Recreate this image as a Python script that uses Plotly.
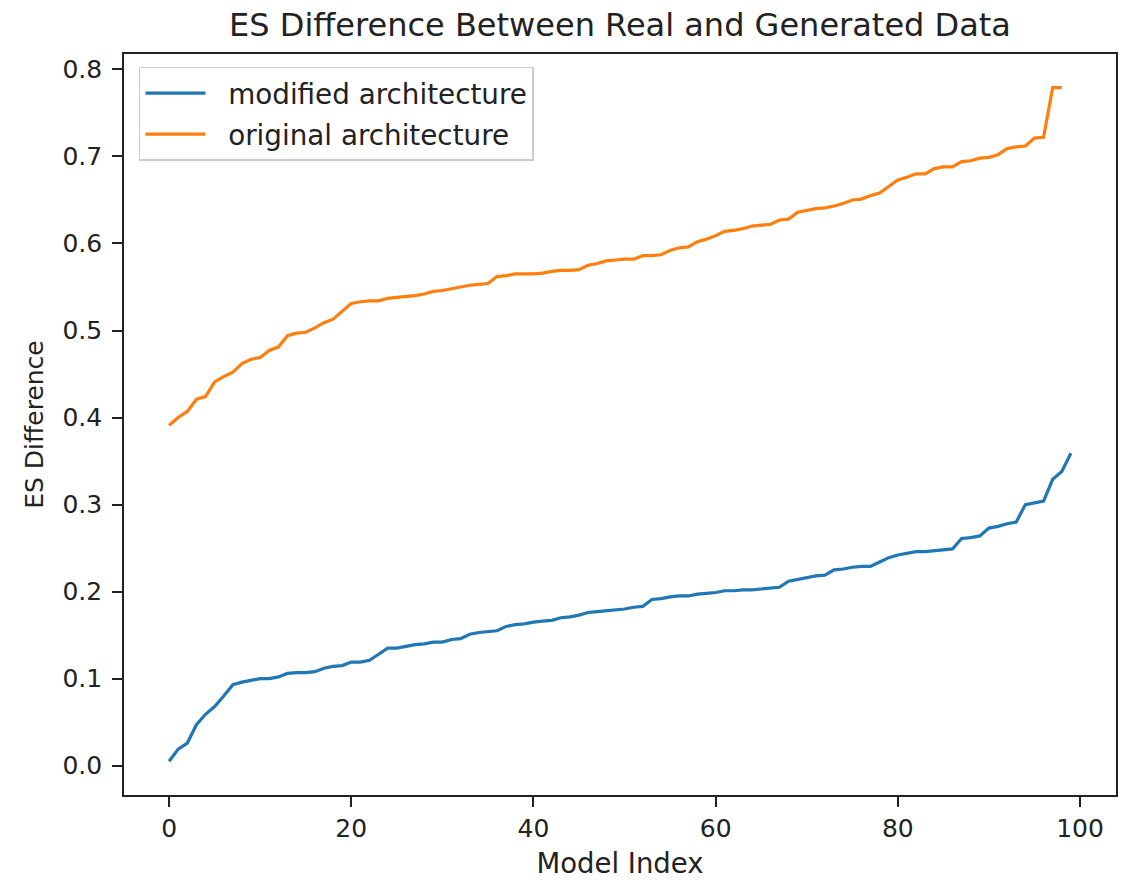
import plotly.graph_objects as go

modified = [0.005, 0.019, 0.026, 0.047, 0.059, 0.068, 0.080, 0.093, 0.096, 0.098,
            0.100, 0.100, 0.102, 0.106, 0.107, 0.107, 0.108, 0.112, 0.114, 0.115,
            0.119, 0.119, 0.121, 0.128, 0.135, 0.135, 0.137, 0.139, 0.140, 0.142,
            0.142, 0.145, 0.146, 0.151, 0.153, 0.154, 0.155, 0.160, 0.162, 0.163,
            0.165, 0.166, 0.167, 0.170, 0.171, 0.173, 0.176, 0.177, 0.178, 0.179,
            0.180, 0.182, 0.183, 0.191, 0.192, 0.194, 0.195, 0.195, 0.197, 0.198,
            0.199, 0.201, 0.201, 0.202, 0.202, 0.203, 0.204, 0.205, 0.212, 0.214,
            0.216, 0.218, 0.219, 0.225, 0.226, 0.228, 0.229, 0.229, 0.234, 0.239,
            0.242, 0.244, 0.246, 0.246, 0.247, 0.248, 0.249, 0.261, 0.262, 0.264,
            0.273, 0.275, 0.278, 0.280, 0.300, 0.302, 0.304, 0.329, 0.338, 0.359]

original = [0.391, 0.400, 0.407, 0.421, 0.424, 0.441, 0.447, 0.452, 0.462, 0.467,
            0.469, 0.477, 0.481, 0.494, 0.497, 0.498, 0.503, 0.509, 0.513, 0.522,
            0.531, 0.533, 0.534, 0.534, 0.537, 0.538, 0.539, 0.540, 0.542, 0.545,
            0.546, 0.548, 0.550, 0.552, 0.553, 0.554, 0.562, 0.563, 0.565, 0.565,
            0.565, 0.566, 0.568, 0.569, 0.569, 0.570, 0.575, 0.577, 0.580, 0.581,
            0.582, 0.582, 0.586, 0.586, 0.587, 0.592, 0.595, 0.596, 0.602, 0.605,
            0.609, 0.614, 0.615, 0.617, 0.620, 0.621, 0.622, 0.627, 0.628, 0.636,
            0.638, 0.640, 0.641, 0.643, 0.646, 0.650, 0.651, 0.655, 0.658, 0.665,
            0.673, 0.676, 0.680, 0.680, 0.686, 0.688, 0.688, 0.694, 0.695, 0.698,
            0.699, 0.702, 0.709, 0.711, 0.712, 0.721, 0.722, 0.779, 0.779]

series_names = ["modified architecture", "original architecture"]

x_mod = list(range(len(modified)))
x_orig = list(range(len(original)))

x_ticks = [0, 20, 40, 60, 80, 100]
y_ticks = [0.0, 0.1, 0.2, 0.3, 0.4, 0.5, 0.6, 0.7, 0.8]

FONT = "DejaVu Sans, sans-serif"
W, H = 1126, 878
PAD = "\u00a0\u00a0"

fig = go.Figure()
fig.add_trace(go.Scatter(x=x_mod, y=modified, mode="lines", name=PAD + series_names[0],
                         legendgroup="a",
                         line=dict(color="#1f77b4", width=3.2)))
fig.add_trace(go.Scatter(x=x_orig, y=original, mode="lines", name=PAD + series_names[1],
                         legendgroup="b",
                         line=dict(color="#ff7f0e", width=3.2)))

axis_common = dict(showgrid=False, zeroline=False, showline=True, linecolor="#222222",
                   linewidth=1.6, mirror=True, ticks="outside", ticklen=10, tickwidth=1.6,
                   tickcolor="#222222", tickfont=dict(family=FONT, size=25, color="#222222"))

fig.update_layout(
    width=W, height=H,
    margin=dict(l=116, r=18, t=46, b=91),
    paper_bgcolor="white", plot_bgcolor="white",
    font=dict(family=FONT, color="#222222"),
    title=dict(text="ES Difference Between Real and Generated Data",
               x=0.5, xanchor="center", xref="paper",
               y=1 - 6 / H, yanchor="top", yref="container",
               pad=dict(t=0, b=0),
               font=dict(family=FONT, size=32, color="#222222")),
    xaxis=dict(range=[-4.95, 103.95], tickvals=x_ticks,
               title=dict(text="Model Index", font=dict(family=FONT, size=27.5), standoff=12),
               **axis_common),
    yaxis=dict(range=[-0.0337, 0.8177], tickvals=y_ticks, tickformat=".1f",
               ticklabelstandoff=5,
               title=dict(text="ES Difference", font=dict(family=FONT, size=25), standoff=12),
               **axis_common),
    legend=dict(x=0.0151, y=0.9825, xanchor="left", yanchor="top",
                bgcolor="rgba(255,255,255,0.8)", bordercolor="#cccccc", borderwidth=1.5,
                font=dict(family=FONT, size=27.8, color="#222222"),
                itemwidth=60, traceorder="grouped", tracegroupgap=2),
    showlegend=True,
)

fig.write_html("out.html")
